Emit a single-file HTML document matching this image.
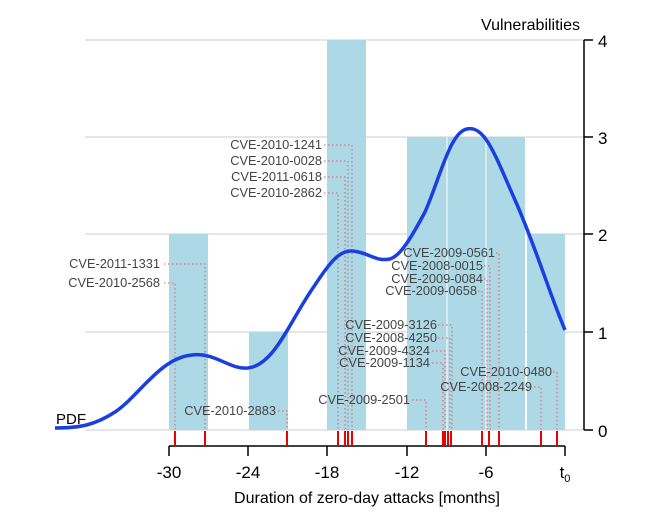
<!DOCTYPE html>
<html><head><meta charset="utf-8"><style>
html,body{margin:0;padding:0;background:#fff}
svg{display:block}
.l{font-family:"Liberation Sans",sans-serif;font-size:12.8px;fill:#444}
.t{font-family:"Liberation Sans",sans-serif;font-size:17px;fill:#000}
</style></head><body>
<svg width="648" height="532" viewBox="0 0 648 532" xmlns="http://www.w3.org/2000/svg">
<g stroke="#ddd" stroke-width="1.5">
<line x1="85" y1="40" x2="584" y2="40"/>
<line x1="85" y1="137" x2="584" y2="137"/>
<line x1="85" y1="234" x2="584" y2="234"/>
<line x1="85" y1="332" x2="584" y2="332"/>
<line x1="85" y1="430" x2="584" y2="430"/>
</g>
<g fill="#add8e6">
<rect x="169" y="234" width="39" height="196"/>
<rect x="249" y="332" width="39" height="98"/>
<rect x="327" y="40" width="39" height="390"/>
<rect x="407" y="137" width="118" height="293"/>
<rect x="527" y="234" width="38" height="196"/>
</g>
<g stroke="#fff" stroke-width="1"><line x1="447" y1="137" x2="447" y2="430"/><line x1="486" y1="137" x2="486" y2="430"/></g>
<g fill="none" stroke="#e06060" stroke-width="1" stroke-dasharray="1.5,2.5">
<polyline points="164,264 205,264 205,430"/>
<polyline points="164,283 175,283 175,430"/>
<polyline points="278,411 287,411 287,430"/>
<polyline points="324,145 352,145 352,430"/>
<polyline points="324,161 348,161 348,430"/>
<polyline points="324,177 345,177 345,430"/>
<polyline points="324,193 338,193 338,430"/>
<polyline points="496,253 499,253 499,430"/>
<polyline points="484,266 490,266 490,430"/>
<polyline points="484,279 487,279 487,430"/>
<polyline points="478,291 482,291 482,430"/>
<polyline points="438,325 452,325 452,430"/>
<polyline points="438,338 450,338 450,430"/>
<polyline points="432,351 445,351 445,430"/>
<polyline points="432,363 443,363 443,430"/>
<polyline points="412,400 426,400 426,430"/>
<polyline points="553,372 557,372 557,430"/>
<polyline points="534,387 541,387 541,430"/>
</g>
<g stroke="#e00" stroke-width="2">
<line x1="175" y1="431" x2="175" y2="445"/><line x1="205" y1="431" x2="205" y2="445"/><line x1="287" y1="431" x2="287" y2="445"/>
<line x1="338" y1="431" x2="338" y2="445"/><line x1="345" y1="431" x2="345" y2="445"/><line x1="348" y1="431" x2="348" y2="445"/><line x1="352" y1="431" x2="352" y2="445"/>
<line x1="426" y1="431" x2="426" y2="445"/><line x1="443" y1="431" x2="443" y2="445"/><line x1="445" y1="431" x2="445" y2="445"/><line x1="448" y1="431" x2="448" y2="445"/><line x1="451" y1="431" x2="451" y2="445"/>
<line x1="482" y1="431" x2="482" y2="445"/><line x1="489" y1="431" x2="489" y2="445"/><line x1="499" y1="431" x2="499" y2="445"/>
<line x1="541" y1="431" x2="541" y2="445"/><line x1="557" y1="431" x2="557" y2="445"/>
</g>
<path d="M55,428 C80,428 95,425 115,412 C140,395 160,358 192,355 C215,352 230,370 248,368 C275,365 290,320 315,285 C330,262 340,250 352,251 C368,252 375,262 390,259 C400,256 410,240 425,212 C440,178 450,132 467,129 C485,125 495,155 515,200 C535,245 550,295 565,330" fill="none" stroke="#1a3fe0" stroke-width="3.5"/>
<g stroke="#000" stroke-width="1.5" fill="none">
<line x1="584" y1="40" x2="584" y2="430"/>
<line x1="584" y1="40" x2="593" y2="40"/><line x1="584" y1="137" x2="593" y2="137"/><line x1="584" y1="234" x2="593" y2="234"/><line x1="584" y1="332" x2="593" y2="332"/><line x1="584" y1="430" x2="593" y2="430"/>
<line x1="169" y1="446" x2="565" y2="446"/>
<line x1="169" y1="446" x2="169" y2="456"/><line x1="248" y1="446" x2="248" y2="456"/><line x1="327" y1="446" x2="327" y2="456"/><line x1="407" y1="446" x2="407" y2="456"/><line x1="486" y1="446" x2="486" y2="456"/><line x1="565" y1="446" x2="565" y2="456"/>
</g>
<g class="t" text-anchor="start">
<text x="598" y="47">4</text><text x="598" y="144">3</text><text x="598" y="241">2</text><text x="598" y="339">1</text><text x="598" y="437">0</text>
</g>
<text class="t" x="580" y="30" text-anchor="end" style="font-size:16px">Vulnerabilities</text>
<text class="t" x="56" y="424" style="font-size:15px">PDF</text>
<g class="t" text-anchor="middle">
<text x="169" y="478">-30</text><text x="248" y="478">-24</text><text x="327" y="478">-18</text><text x="407" y="478">-12</text><text x="486" y="478">-6</text>
<text x="565" y="478">t<tspan font-size="11" dy="4">0</tspan></text>
<text x="367" y="503" style="font-size:16px">Duration of zero-day attacks [months]</text>
</g>
<g class="l" text-anchor="end">
<text x="160" y="268">CVE-2011-1331</text>
<text x="160" y="287">CVE-2010-2568</text>
<text x="276" y="415">CVE-2010-2883</text>
<text x="322" y="149">CVE-2010-1241</text>
<text x="322" y="165">CVE-2010-0028</text>
<text x="322" y="181">CVE-2011-0618</text>
<text x="322" y="197">CVE-2010-2862</text>
<text x="495" y="257">CVE-2009-0561</text>
<text x="483" y="270">CVE-2008-0015</text>
<text x="483" y="283">CVE-2009-0084</text>
<text x="477" y="295">CVE-2009-0658</text>
<text x="437" y="329">CVE-2009-3126</text>
<text x="437" y="342">CVE-2008-4250</text>
<text x="430" y="355">CVE-2009-4324</text>
<text x="430" y="367">CVE-2009-1134</text>
<text x="410" y="404">CVE-2009-2501</text>
<text x="552" y="376">CVE-2010-0480</text>
<text x="532" y="391">CVE-2008-2249</text>
</g>
</svg>
</body></html>
